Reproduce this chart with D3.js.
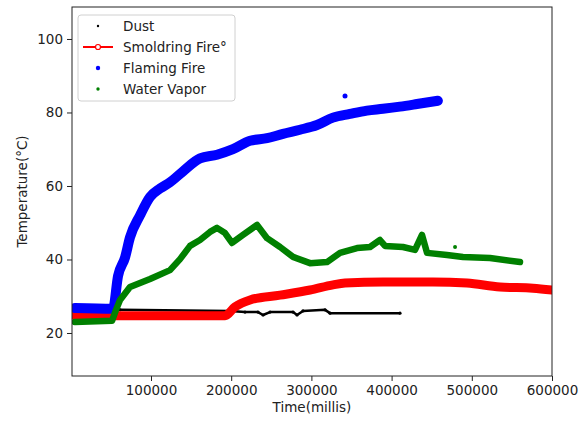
<!DOCTYPE html>
<html>
<head>
<meta charset="utf-8">
<script src="https://cdn.jsdelivr.net/npm/d3@7"></script>
<style>
  body { margin: 0; background: #fff; }
  text { font-family: "DejaVu Sans", sans-serif; }
</style>
</head>
<body>
<svg width="587" height="421"></svg>
<script>
// values (time in millis, temperature in °C)
var dustTime = [61400, 198500, 217200, 233400, 239700, 248400, 277100, 282100, 289500, 317000, 323200, 410500]
var dustTemp = [26.3, 26.0, 25.7, 25.7, 24.9, 25.7, 25.7, 24.9, 26.0, 26.3, 25.4, 25.4]

var smolderTime = [5000, 192300, 204700, 223500, 260900, 298300, 327000, 341900, 389300, 451600, 494000, 535200, 576300, 600000]
var smolderTemp = [24.7, 24.7, 27.1, 29.0, 30.3, 31.7, 33.1, 33.6, 33.9, 33.9, 33.6, 32.5, 32.2, 31.7]

var flameTime = [5000, 52600, 58900, 67600, 73800, 86300, 98800, 111200, 123700, 140000, 161100, 182300, 202200, 223500, 244700, 264600, 285800, 307000, 326900, 348100, 369300, 389200, 410400, 431600, 457700]
var flameTemp = [26.8, 26.6, 35.5, 40.5, 46.0, 52.0, 57.0, 59.3, 61.0, 64.0, 67.5, 68.5, 70.0, 72.3, 73.0, 74.2, 75.3, 76.6, 78.6, 79.6, 80.5, 81.0, 81.6, 82.3, 83.2]
var flameOutTime = [341900]
var flameOutTemp = [84.5]

var vaporTime = [5000, 51400, 56400, 61400, 73800, 98800, 123700, 136200, 148700, 161100, 173600, 182300, 192300, 201000, 214700, 232200, 244700, 260900, 277100, 298300, 319500, 335700, 356900, 373100, 385500, 391800, 414200, 429200, 437900, 444200, 469100, 489000, 522700, 560100]
var vaporTemp = [23.0, 23.3, 26.3, 29.0, 32.5, 34.7, 37.1, 40.1, 43.7, 45.3, 47.5, 48.6, 47.2, 44.5, 46.7, 49.4, 45.8, 43.4, 40.7, 39.0, 39.3, 41.8, 43.1, 43.4, 45.3, 43.7, 43.4, 42.6, 46.7, 41.8, 41.2, 40.7, 40.4, 39.3]
var vaporOutTime = [479100]
var vaporOutTemp = [43.4]

var xTicks = [100000, 200000, 300000, 400000, 500000, 600000]
var yTicks = [20, 40, 60, 80, 100]
var legendNames = ["Dust", "Smoldring Fire°", "Flaming Fire", "Water Vapor"]

var svg = d3.select("svg")
var pLeft = 72, pRight = 552, pTop = 7, pBottom = 376

var x = d3.scaleLinear().domain([1500, 600000]).range([pLeft, pRight])
var y = d3.scaleLinear().domain([8.3, 108.7]).range([pBottom, pTop])

function pts(ts, vs) { return ts.map(function (t, i) { return [t, vs[i]] }) }
var line = d3.line().x(function (d) { return x(d[0]) }).y(function (d) { return y(d[1]) })
var smooth = d3.line().curve(d3.curveMonotoneX).x(function (d) { return x(d[0]) }).y(function (d) { return y(d[1]) })

// clip anything poking out of the frame
svg.append("defs").append("clipPath").attr("id", "clip")
    .append("rect").attr("x", pLeft).attr("y", pTop).attr("width", pRight - pLeft).attr("height", pBottom - pTop)
var plot = svg.append("g").attr("clip-path", "url(#clip)")

// draw order like the original: dust, smoldering, flaming, vapor
plot.append("path").datum(pts(dustTime, dustTemp))
    .attr("d", line).attr("fill", "none").attr("stroke", "black")
    .attr("stroke-width", 2.5).attr("stroke-linejoin", "round")
plot.append("g").selectAll("circle").data(pts(dustTime, dustTemp)).join("circle")
    .attr("cx", function (d) { return x(d[0]) }).attr("cy", function (d) { return y(d[1]) })
    .attr("r", 1.6).attr("fill", "black")

plot.append("path").datum(pts(smolderTime, smolderTemp))
    .attr("d", smooth).attr("fill", "none").attr("stroke", "red")
    .attr("stroke-width", 9).attr("stroke-linejoin", "round").attr("stroke-linecap", "round")

plot.append("path").datum(pts(flameTime, flameTemp))
    .attr("d", smooth).attr("fill", "none").attr("stroke", "blue")
    .attr("stroke-width", 10).attr("stroke-linejoin", "round").attr("stroke-linecap", "round")
plot.append("g").selectAll("circle").data(pts(flameOutTime, flameOutTemp)).join("circle")
    .attr("cx", function (d) { return x(d[0]) }).attr("cy", function (d) { return y(d[1]) })
    .attr("r", 2.5).attr("fill", "blue")

plot.append("path").datum(pts(vaporTime, vaporTemp))
    .attr("d", line).attr("fill", "none").attr("stroke", "green")
    .attr("stroke-width", 6.5).attr("stroke-linejoin", "round").attr("stroke-linecap", "round")
plot.append("g").selectAll("circle").data(pts(vaporOutTime, vaporOutTemp)).join("circle")
    .attr("cx", function (d) { return x(d[0]) }).attr("cy", function (d) { return y(d[1]) })
    .attr("r", 2).attr("fill", "green")

// axes
svg.append("g").attr("transform", "translate(0," + pBottom + ")")
    .call(d3.axisBottom(x).tickValues(xTicks).tickFormat(d3.format("d")).tickSizeOuter(0).tickSize(5).tickPadding(4))
svg.append("g").attr("transform", "translate(" + pLeft + ",0)")
    .call(d3.axisLeft(y).tickValues(yTicks).tickSizeOuter(0).tickSize(5).tickPadding(4))
svg.selectAll(".domain").remove()
svg.selectAll(".tick text").attr("font-size", 13.5).attr("fill", "#222").style("font-family", "DejaVu Sans")
svg.selectAll(".tick line").attr("stroke", "#222")

svg.append("rect").attr("x", pLeft).attr("y", pTop).attr("width", pRight - pLeft).attr("height", pBottom - pTop)
    .attr("fill", "none").attr("stroke", "#222").attr("stroke-width", 1)

svg.append("text").text("Time(millis)")
    .attr("x", (pLeft + pRight) / 2).attr("y", 412).attr("text-anchor", "middle")
    .attr("font-size", 13.5).attr("fill", "#222")
svg.append("text").text("Temperature(°C)")
    .attr("transform", "translate(27," + (pTop + pBottom) / 2 + ") rotate(-90)")
    .attr("text-anchor", "middle").attr("font-size", 13.5).attr("fill", "#222")

// legend
var legend = svg.append("g")
legend.append("rect").attr("x", 78).attr("y", 15).attr("width", 157).attr("height", 86)
    .attr("rx", 3).attr("fill", "white").attr("fill-opacity", 0.8).attr("stroke", "#d0d0d0")
var rowY = d3.scalePoint().domain(legendNames).range([26, 89])
legendNames.forEach(function (name, i) {
  var cy = rowY(name)
  if (i === 0) legend.append("circle").attr("cx", 98).attr("cy", cy).attr("r", 1.2).attr("fill", "black")
  if (i === 1) {
    legend.append("line").attr("x1", 83).attr("x2", 113).attr("y1", cy).attr("y2", cy)
        .attr("stroke", "red").attr("stroke-width", 2)
    legend.append("circle").attr("cx", 98).attr("cy", cy).attr("r", 2.5)
        .attr("fill", "white").attr("stroke", "red").attr("stroke-width", 1.2)
  }
  if (i === 2) legend.append("circle").attr("cx", 98).attr("cy", cy).attr("r", 2.2).attr("fill", "blue")
  if (i === 3) legend.append("circle").attr("cx", 98).attr("cy", cy).attr("r", 1.7).attr("fill", "green")
  legend.append("text").text(name).attr("x", 123).attr("y", cy + 5)
      .attr("font-size", 13.5).attr("fill", "#222")
})
</script>
</body>
</html>
